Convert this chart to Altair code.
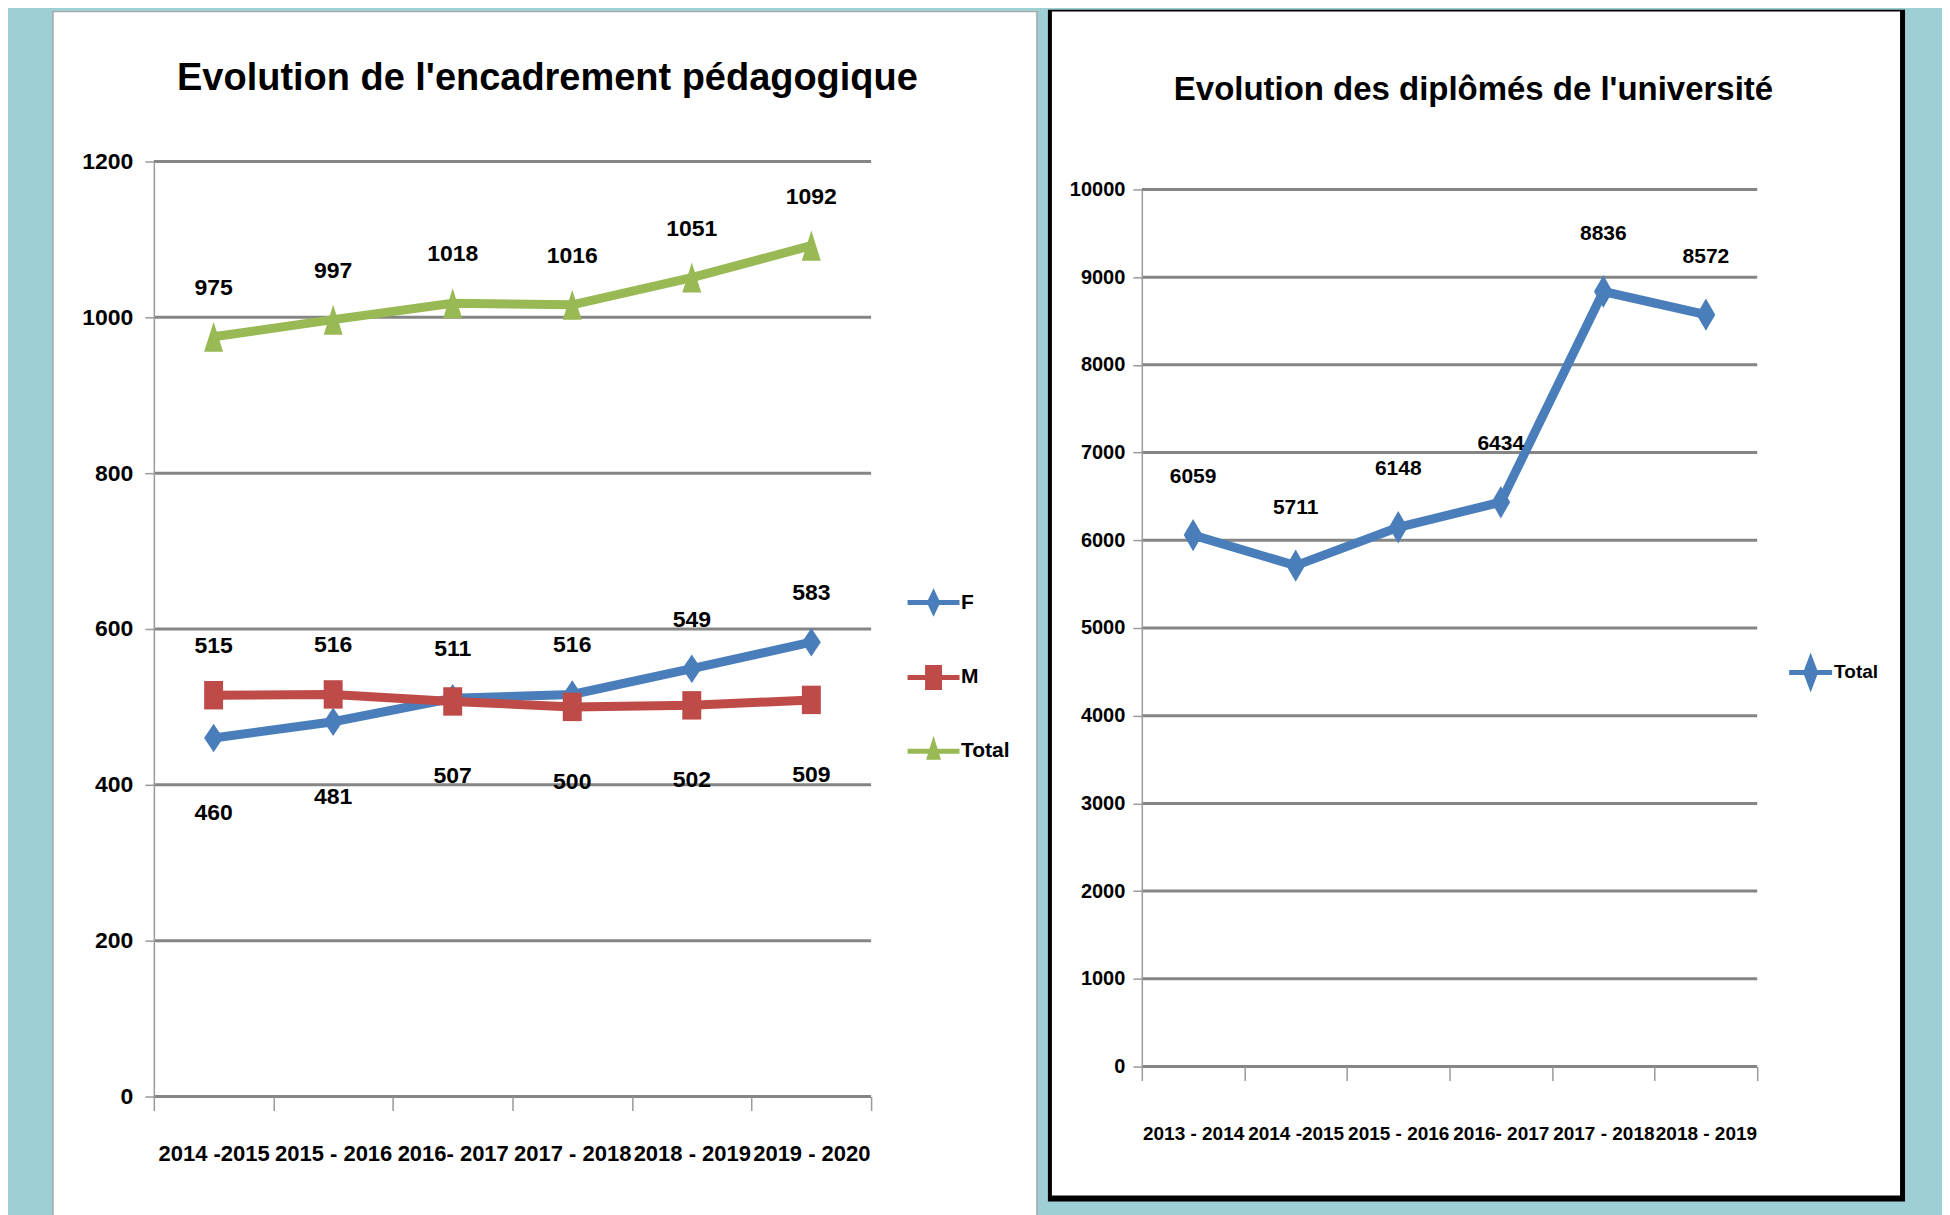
import altair as alt
import pandas as pd

# ---------------- data ----------------
left_title = "Evolution de l'encadrement pédagogique"
left_categories = ["2014 -2015", "2015 - 2016", "2016- 2017", "2017 - 2018", "2018 - 2019", "2019 - 2020"]
left_series = ["F", "M", "Total"]
f_vals = [460, 481, 511, 516, 549, 583]
m_vals = [515, 516, 507, 500, 502, 509]
total_vals = [975, 997, 1018, 1016, 1051, 1092]
left_yticks = [0, 200, 400, 600, 800, 1000, 1200]

right_title = "Evolution des diplômés de l'université"
right_categories = ["2013 - 2014", "2014 -2015", "2015 - 2016", "2016- 2017", "2017 - 2018", "2018 - 2019"]
right_series = ["Total"]
dipl_vals = [6059, 5711, 6148, 6434, 8836, 8572]
right_yticks = [0, 1000, 2000, 3000, 4000, 5000, 6000, 7000, 8000, 9000, 10000]

# ---------------- style ----------------
FONT = "Liberation Sans, Arial, sans-serif"
TEAL = "#9ECFD5"
GRID = "#858585"
AXIS = "#9a9a9a"
BLUE = "#4A7EBB"
RED = "#BE4B48"
GREEN = "#98B954"
left_colors = [BLUE, RED, GREEN]
right_colors = [BLUE]

# marker shapes (unit box) for data points and legend symbols (line + marker)
DIAMOND = "M0,-0.9L0.6,0L0,0.9L-0.6,0Z"
SQUARE = "M-0.6,-0.9L0.6,-0.9L0.6,0.9L-0.6,0.9Z"
TRIANGLE = "M0,-0.95L0.6,0.95L-0.6,0.95Z"
R_DIAMOND = "M0,-1L0.58,0L0,1L-0.58,0Z"
LEG_DIAMOND = "M-2,0L2,0M0,-0.65L0.31,0L0,0.65L-0.31,0Z"
LEG_SQUARE = "M-2,0L2,0M-0.46,-0.77L0.46,-0.77L0.46,0.77L-0.46,0.77Z"
LEG_TRIANGLE = "M-2,0L2,0M0,-0.55L0.31,0.45L-0.31,0.45Z"
R_LEG_DIAMOND = "M-2,0L2,0M0,-1.2L0.45,0L0,1.2L-0.45,0Z"

LW, LH = 718, 936
RW, RH, R_TOP = 616, 906, 28
SPACING = 271

one_row = pd.DataFrame({"k": [0]})


def deco(x, x2, y, y2, **kw):
    return alt.Chart(one_row).mark_rect(**kw).encode(
        x=alt.value(x), x2=alt.value(x2), y=alt.value(y), y2=alt.value(y2)
    )


def title_mark(text, size, x, y):
    return alt.Chart(one_row).mark_text(
        text=text, font=FONT, fontSize=size, fontWeight="bold", color="black",
        align="center", baseline="alphabetic"
    ).encode(x=alt.value(x), y=alt.value(y))


def x_axis(size, pad):
    return alt.Axis(
        title=None, labelAngle=0, tickBand="extent", tickSize=14, tickColor=AXIS,
        tickWidth=1.5, domain=False, grid=False, labelPadding=pad, labelFont=FONT,
        labelFontSize=size, labelFontWeight="bold", labelColor="black",
        labelOverlap=False, labelLimit=0, zindex=1,
    )


def y_axis(values, size, pad):
    return alt.Axis(
        title=None, values=values, format="d", grid=False, domainColor=AXIS,
        domainWidth=1.5, tickColor=AXIS, tickSize=9, tickWidth=1.5,
        labelPadding=pad, labelFont=FONT, labelFontSize=size,
        labelFontWeight="bold", labelColor="black", zindex=1,
    )


# ---------------- left chart ----------------
rows = []
for i, c in enumerate(left_categories):
    for s, vals in zip(left_series, [f_vals, m_vals, total_vals]):
        v = vals[i]
        if s == "Total":
            pos = "above"
        else:
            other = m_vals[i] if s == "F" else f_vals[i]
            pos = "above" if v > other else "below"
        rows.append({"cat": c, "i": i, "serie": s, "value": v, "pos": pos})
ldf = pd.DataFrame(rows)

lx = alt.X("cat:N", title=None, bandPosition=0.5,
           scale=alt.Scale(type="band", domain=left_categories, paddingInner=0, paddingOuter=0),
           axis=x_axis(22, 33))
ly = alt.Y("value:Q", title=None, scale=alt.Scale(domain=[0, 1200], nice=False),
           axis=y_axis(left_yticks, 23, 12))

l_leg = alt.Legend(
    title=None, orient="none", legendX=765, legendY=426, padding=0,
    labelFont=FONT, labelFontSize=21, labelFontWeight="bold", labelColor="black",
    symbolSize=676, symbolStrokeWidth=5, symbolOpacity=1, rowPadding=36, labelOffset=12,
)
l_legend_layer = alt.Chart(ldf).mark_point(filled=True, opacity=1, size=676, strokeWidth=5).encode(
    x=lx, y=ly,
    fill=alt.Fill("serie:N", scale=alt.Scale(domain=left_series, range=left_colors), legend=l_leg),
    stroke=alt.Stroke("serie:N", scale=alt.Scale(domain=left_series, range=left_colors), legend=l_leg),
    shape=alt.Shape("serie:N", scale=alt.Scale(domain=left_series, range=[LEG_DIAMOND, LEG_SQUARE, LEG_TRIANGLE]), legend=l_leg),
)
l_teal = deco(-145, 1789, -152, 1041, fill=TEAL)
l_panel = deco(-101, 884, -150, 1060, fill="white", stroke="#a6a6a6", strokeWidth=1.5)
l_title = title_mark(left_title, 38, 394, -72)
l_grid = alt.Chart(pd.DataFrame({"value": left_yticks})).mark_rule(stroke=GRID, strokeWidth=3).encode(y=ly)
l_lines = alt.Chart(ldf).mark_line(strokeWidth=9).encode(
    x=lx, y=ly, order="i:Q",
    stroke=alt.Stroke("serie:N", scale=alt.Scale(domain=left_series, range=left_colors), legend=None),
)
l_points = alt.Chart(ldf).mark_point(filled=True, opacity=1, size=1000, strokeWidth=0).encode(
    x=lx, y=ly,
    fill=alt.Fill("serie:N", scale=alt.Scale(domain=left_series, range=left_colors), legend=None),
    shape=alt.Shape("serie:N", scale=alt.Scale(domain=left_series, range=[DIAMOND, SQUARE, TRIANGLE]), legend=None),
)
l_above = alt.Chart(ldf).transform_filter("datum.pos == 'above'").mark_text(
    font=FONT, fontSize=23, fontWeight="bold", color="black", baseline="middle", dy=-49
).encode(x=lx, y=ly, text=alt.Text("value:Q", format="d"))
l_below = alt.Chart(ldf).transform_filter("datum.pos == 'below'").mark_text(
    font=FONT, fontSize=23, fontWeight="bold", color="black", baseline="middle", dy=75
).encode(x=lx, y=ly, text=alt.Text("value:Q", format="d"))

left = alt.layer(
    l_legend_layer, l_teal, l_panel, l_title, l_grid, l_lines, l_points, l_above, l_below
).resolve_scale(fill="independent", stroke="independent", shape="independent").properties(
    width=LW, height=LH,
)

# ---------------- right chart ----------------
rdf = pd.DataFrame({"cat": right_categories, "i": list(range(len(right_categories))),
                    "serie": right_series * len(right_categories), "value": dipl_vals})

rx = alt.X("cat:N", title=None, bandPosition=0.5,
           scale=alt.Scale(type="band", domain=right_categories, paddingInner=0, paddingOuter=0),
           axis=x_axis(19, 44))
ry = alt.Y("value:Q", title=None, scale=alt.Scale(domain=[0, 10000], nice=False, range=[RH, R_TOP]),
           axis=y_axis(right_yticks, 20, 8))

r_leg = alt.Legend(
    title=None, orient="none", legendX=656, legendY=498, padding=0,
    labelFont=FONT, labelFontSize=19, labelFontWeight="bold", labelColor="black",
    symbolSize=462, symbolStrokeWidth=5, symbolOpacity=1, labelOffset=10,
)
r_legend_layer = alt.Chart(rdf).mark_point(filled=True, opacity=1, size=462, strokeWidth=5).encode(
    x=rx, y=ry,
    fill=alt.Fill("serie:N", scale=alt.Scale(domain=right_series, range=right_colors), legend=r_leg),
    stroke=alt.Stroke("serie:N", scale=alt.Scale(domain=right_series, range=right_colors), legend=r_leg),
    shape=alt.Shape("serie:N", scale=alt.Scale(domain=right_series, range=[R_LEG_DIAMOND]), legend=r_leg),
)
r_black = deco(-94, 764, -152, 1041, fill="black")
r_panel = deco(-90, 759, -150, 1035, fill="white")
r_title = title_mark(right_title, 33, 332, -62)
r_grid = alt.Chart(pd.DataFrame({"value": right_yticks})).mark_rule(stroke=GRID, strokeWidth=3).encode(y=ry)
r_lines = alt.Chart(rdf).mark_line(strokeWidth=9).encode(
    x=rx, y=ry, order="i:Q",
    stroke=alt.Stroke("serie:N", scale=alt.Scale(domain=right_series, range=right_colors), legend=None),
)
r_points = alt.Chart(rdf).mark_point(filled=True, opacity=1, size=1050, strokeWidth=0).encode(
    x=rx, y=ry,
    fill=alt.Fill("serie:N", scale=alt.Scale(domain=right_series, range=right_colors), legend=None),
    shape=alt.Shape("serie:N", scale=alt.Scale(domain=right_series, range=[R_DIAMOND]), legend=None),
)
r_labels = alt.Chart(rdf).mark_text(
    font=FONT, fontSize=21, fontWeight="bold", color="black", baseline="middle", dy=-58
).encode(x=rx, y=ry, text=alt.Text("value:Q", format="d"))

right = alt.layer(
    r_legend_layer, r_black, r_panel, r_title, r_grid, r_lines, r_points, r_labels
).resolve_scale(fill="independent", stroke="independent", shape="independent").properties(
    width=RW, height=RH,
)

chart = alt.hconcat(left, right, spacing=SPACING, bounds="flush").resolve_scale(
    fill="independent", stroke="independent", shape="independent"
).properties(padding=0, background=TEAL).configure_view(stroke="transparent")

chart.save("out.html", embed_options={"renderer": "svg", "actions": False})
